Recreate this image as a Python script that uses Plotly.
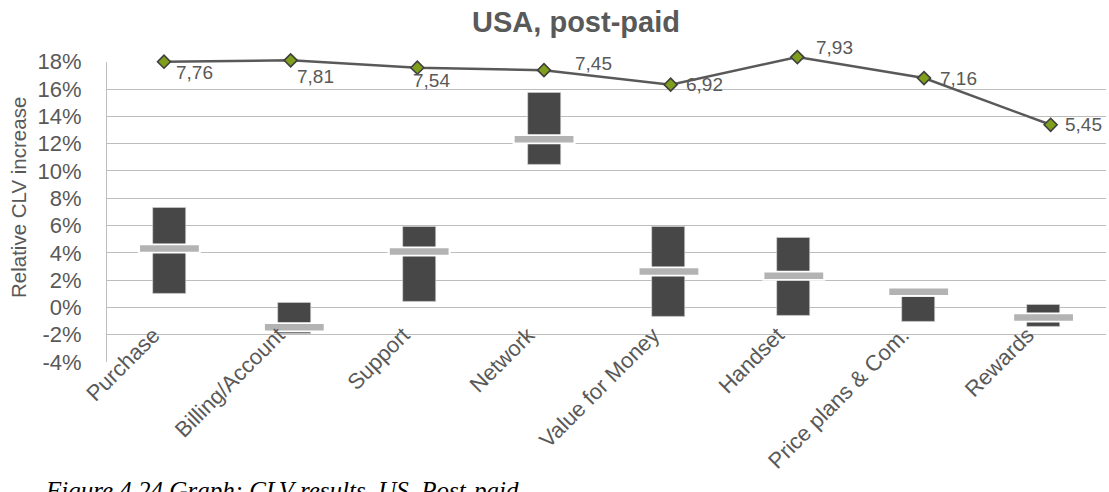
import plotly.graph_objects as go

# Categories and values (relative CLV increase, %)
categories = ["Purchase", "Billing/Account", "Support", "Network",
              "Value for Money", "Handset", "Price plans & Com.", "Rewards"]
range_low = [1.0, -1.95, 0.39, 10.44, -0.69, -0.59, -1.03, -1.42]
range_high = [7.31, 0.36, 5.92, 15.76, 5.88, 5.14, 0.80, 0.19]
median_val = [4.31, -1.46, 4.09, 12.32, 2.63, 2.31, 1.14, -0.74]

# Satisfaction scores shown as the line (secondary axes)
scores = [7.76, 7.81, 7.54, 7.45, 6.92, 7.93, 7.16, 5.45]

y_ticks = [-4, -2, 0, 2, 4, 6, 8, 10, 12, 14, 16, 18]

# Pixel offsets of the score labels relative to their points (dx, dy up)
label_offsets = [(10, -11), (4, -16), (-6, -13), (29, 7),
                 (13, 0), (17, 10), (14, 0), (12, 0)]

idx = list(range(len(categories)))
FONT = "Liberation Sans, Arial, sans-serif"
TXT = "#595959"

# Figure geometry (pixels)
W, H = 1109, 492
M_L, M_R, M_T, M_B = 107, 3, 40, 130
PLOT_W = W - M_L - M_R
PLOT_H = H - M_T - M_B
Y1_TOP_PX = 61.7                      # pixel row of the 18% gridline
Y1_FRAC = (H - M_B - Y1_TOP_PX) / PLOT_H
Y2_LOW, Y2_AT_TOP = -3.24, 7.76       # score at the 18% gridline
Y2_PX_PER_UNIT = (H - M_B - Y1_TOP_PX) / (Y2_AT_TOP - Y2_LOW)
Y2_HIGH = Y2_AT_TOP + (Y1_TOP_PX - M_T) / Y2_PX_PER_UNIT


def px_x(px):
    return (px - M_L) / PLOT_W


def px_y(py):
    return (H - M_B - py) / PLOT_H


fig = go.Figure()

# Floating range bars
fig.add_trace(go.Bar(
    x=idx, y=[h - l for l, h in zip(range_low, range_high)], base=range_low,
    width=0.264, marker=dict(color="#474747", line=dict(color="#d9d9d9", width=0.6)),
    hoverinfo="skip", showlegend=False,
))

# Median ticks: white halo then grey bar
fig.add_trace(go.Scatter(
    x=idx, y=median_val, mode="markers", hoverinfo="skip", showlegend=False,
    marker=dict(symbol="line-ew", size=45, line=dict(color="#ffffff", width=10)),
))
fig.add_trace(go.Scatter(
    x=idx, y=median_val, mode="markers", hoverinfo="skip", showlegend=False,
    marker=dict(symbol="line-ew", size=42, line=dict(color="#b3b3b3", width=6.5)),
))

# Score line on its own axes pair
fig.add_trace(go.Scatter(
    x=idx, y=scores, xaxis="x2", yaxis="y2", mode="lines+markers",
    line=dict(color="#595959", width=2.5), cliponaxis=False,
    marker=dict(symbol="diamond", size=10, color="#7f9f1c",
                line=dict(color="#3f3f3f", width=1.6)),
    hoverinfo="skip", showlegend=False,
))

for i, (v, (dx, dy)) in enumerate(zip(scores, label_offsets)):
    fig.add_annotation(
        x=i, y=v, xref="x2", yref="y2", text=f"{v:.2f}".replace(".", ","),
        showarrow=False, xanchor="left", yanchor="middle", xshift=dx, yshift=dy,
        font=dict(family=FONT, size=19, color=TXT),
    )

# Axis title
fig.add_annotation(
    x=px_x(18), y=px_y(198), xref="paper", yref="paper",
    text="Relative CLV increase", textangle=-90, showarrow=False,
    xanchor="center", yanchor="middle",
    font=dict(family=FONT, size=20.5, color=TXT),
)

fig.update_layout(
    width=W, height=H,
    margin=dict(l=M_L, r=M_R, t=M_T, b=M_B, autoexpand=False),
    paper_bgcolor="white", plot_bgcolor="rgba(0,0,0,0)",
    title=dict(text="<b>USA, post-paid</b>", x=576 / W, xanchor="center",
               y=1 - 22 / H, yanchor="middle",
               font=dict(family=FONT, size=29, color=TXT)),
    xaxis=dict(
        domain=[0, 1], range=[-0.5, 7.5], tickmode="array", tickvals=idx,
        ticktext=categories, tickangle=-45, showgrid=False, zeroline=False,
        showline=False, ticks="", ticklabelshift=-16, automargin=False,
        anchor="free", position=px_y(317),
        tickfont=dict(family=FONT, size=22, color=TXT),
    ),
    yaxis=dict(
        domain=[0, Y1_FRAC], range=[-4, 18], tickmode="array", tickvals=y_ticks,
        ticktext=[f"{t}%" for t in y_ticks], showgrid=True, automargin=False,
        gridcolor="#bdbdbd", gridwidth=1, zeroline=False,
        showline=True, linecolor="#bdbdbd", linewidth=1, ticks="",
        tickfont=dict(family=FONT, size=22, color=TXT), ticklabelstandoff=20,
    ),
    xaxis2=dict(domain=[0, 1], range=[-0.45, 7.437], anchor="y2",
                visible=False, automargin=False),
    yaxis2=dict(domain=[0, 1], range=[Y2_LOW, Y2_HIGH], anchor="x2",
                visible=False, automargin=False),
    bargap=0,
)

# Caption of the figure
fig.add_annotation(
    x=px_x(43), y=px_y(475), xref="paper", yref="paper",
    xanchor="left", yanchor="top",
    text="<i>Figure 4.24 Graph: CLV results, US, Post-paid</i>", showarrow=False,
    font=dict(family="Liberation Serif, Times New Roman, serif", size=25, color="#000000"),
)

fig.write_html("out.html")
